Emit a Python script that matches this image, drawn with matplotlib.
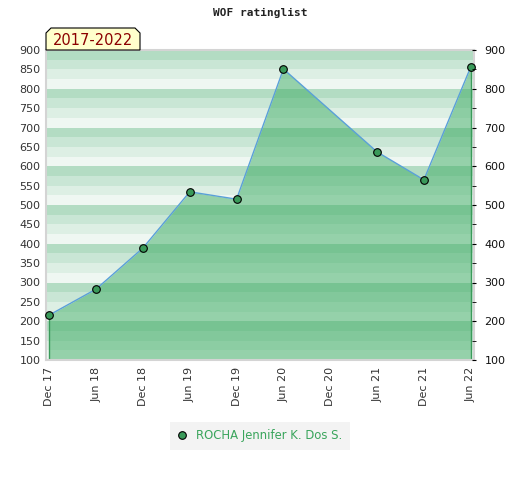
import matplotlib.pyplot as plt
from matplotlib.patches import Polygon

# rating data (Dec 20 has no entry)
periods = ['Dec 17', 'Jun 18', 'Dec 18', 'Jun 19', 'Dec 19', 'Jun 20', 'Dec 20', 'Jun 21', 'Dec 21', 'Jun 22']
point_idx = [0, 1, 2, 3, 4, 5, 7, 8, 9]
ratings = [216, 283, 389, 534, 515, 851, 637, 565, 856]
player = 'ROCHA Jennifer K. Dos S.'
span_label = '2017-2022'

y_min, y_max = 100, 900
stripe_colors = ['#b3dcc3', '#c9e6d5', '#ddefe4', '#eff7f2']

fig = plt.figure(figsize=(5.2, 4.8), dpi=100)
ax = fig.add_axes([46 / 520, 1 - 360 / 480, 428 / 520, 310 / 480])

# striped background, 4 stripes per 100 points, darkest on top
for base in range(y_min, y_max, 100):
    for k, c in enumerate(stripe_colors):
        top = base + 100 - 25 * k
        ax.axhspan(top - 25, top, color=c, lw=0, zorder=0)

ax.fill_between(point_idx, y_min, ratings, color='#3dac63', alpha=0.5, lw=0, zorder=1)
ax.vlines([point_idx[0], point_idx[-1]], y_min, [ratings[0], ratings[-1]],
          color='#3a9a5a', lw=1, zorder=2)
ax.plot(point_idx, ratings, color='#5aa0d8', lw=1, zorder=3)
ax.plot(point_idx, ratings, ls='none', marker='o', ms=5.5, mfc='#3a9a5a', mec='black',
        mew=0.8, zorder=4, clip_on=False, label=player)

ax.set_xlim(-0.07, 9.07)
ax.set_ylim(y_min, y_max)
ax.set_xticks(range(len(periods)))
ax.set_xticklabels(periods, rotation=90, fontsize=8, color='#333333')
ax.set_yticks(range(y_min, y_max + 1, 50))
ax.tick_params(axis='y', labelsize=8, labelcolor='#333333', length=0, pad=4)
ax.tick_params(axis='x', length=0, pad=5)
for s in ax.spines.values():
    s.set_color('#d4d4d4')
    s.set_linewidth(1.5)

ax2 = ax.twinx()
ax2.set_ylim(y_min, y_max)
ax2.set_yticks(range(y_min, y_max + 1, 100))
ax2.set_yticks(range(150, y_max, 100), minor=True)
ax2.tick_params(axis='y', which='both', labelsize=8, labelcolor='#111111', length=3,
                direction='inout', color='black', pad=6)
for s in ax2.spines.values():
    s.set_visible(False)

fig.text(0.5, 1 - 13 / 480, 'WOF ratinglist', ha='center', va='center',
         family='DejaVu Sans Mono', fontweight='bold', fontsize=8, color='#222222')

# tab above the top-left corner
x0, x1 = 46 / 520, 140 / 520
y0, y1 = 1 - 50 / 480, 1 - 28 / 480
cx, cy = 5 / 520, 5 / 480
tab = Polygon([(x0, y0), (x0, y1 - cy), (x0 + cx, y1), (x1 - cx, y1), (x1, y1 - cy), (x1, y0)],
              closed=True, transform=fig.transFigure, facecolor='#ffffcc',
              edgecolor='black', lw=0.8)
fig.patches.append(tab)
fig.text((x0 + x1) / 2, (y0 + y1) / 2 - 0.003, span_label, ha='center', va='center',
         fontsize=10.5, color='#8b0000')

leg = fig.legend(loc='center', bbox_to_anchor=(260 / 520, 1 - 436 / 480), frameon=True,
                 fontsize=8.4, handlelength=0.8, handletextpad=0.8, borderpad=0.4)
leg.get_frame().set_facecolor('#f0f0f0')
leg.get_frame().set_edgecolor('none')
leg.get_frame().set_boxstyle('square', pad=0.25)
for t in leg.get_texts():
    t.set_color('#3aa55c')

fig.savefig('out.png', dpi=100)
